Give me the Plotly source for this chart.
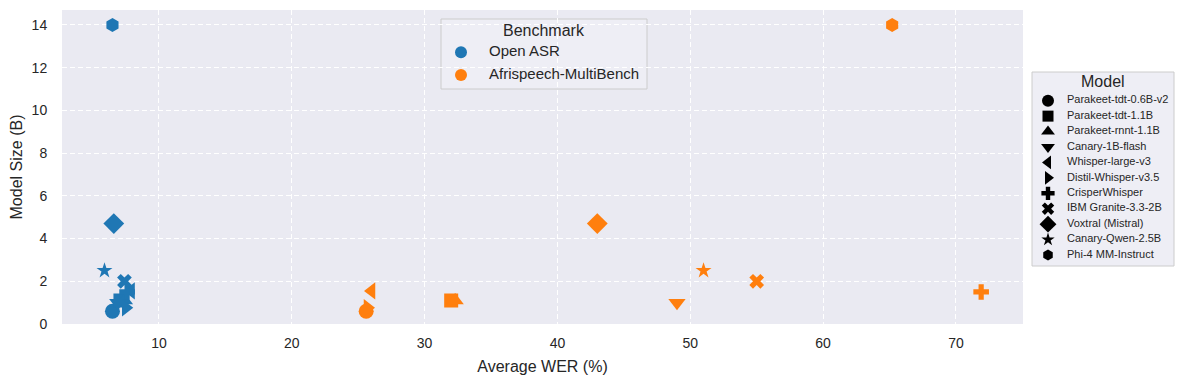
import plotly.graph_objects as go

MODELS = [
    "Parakeet-tdt-0.6B-v2", "Parakeet-tdt-1.1B", "Parakeet-rnnt-1.1B",
    "Canary-1B-flash", "Whisper-large-v3", "Distil-Whisper-v3.5",
    "CrisperWhisper", "IBM Granite-3.3-2B", "Voxtral (Mistral)",
    "Canary-Qwen-2.5B", "Phi-4 MM-Instruct",
]
MODEL_SIZE_B = [0.6, 1.1, 1.1, 1.0, 1.55, 0.76, 1.5, 2.0, 4.7, 2.5, 14.0]
WER_OPEN_ASR = [6.5, 7.1, 7.4, 6.9, 7.9, 7.5, 7.6, 7.4, 6.6, 5.9, 6.5]
WER_AFRISPEECH = [25.6, 32.0, 32.3, 49.0, 26.0, 25.7, 71.9, 55.0, 43.0, 51.0, 65.2]

BENCHMARKS = ["Open ASR", "Afrispeech-MultiBench"]
BENCH_COLORS = ["#1f77b4", "#ff7f0e"]
SYMBOLS = ["circle", "square", "triangle-up", "triangle-down", "triangle-left",
           "triangle-right", "cross", "x", "diamond", "star", "hexagon"]
# plotly symbols scale differently from matplotlib markers; tune per shape
SYMBOL_SIZE = {"circle": 15, "square": 14, "triangle-up": 15, "triangle-down": 15,
               "triangle-left": 15, "triangle-right": 15, "cross": 13, "x": 13,
               "diamond": 16, "star": 12, "hexagon": 14}

FONT = "Arial, Liberation Sans, sans-serif"
TEXT = "#262626"
AX_BG = "#EAEAF2"
LEG_BG = "#EEEEF5"
LEG_EDGE = "#CCCCCC"

# figure geometry; the page adds an 8px body margin, helpers take page pixels
W, H = 1167, 368
M_L, M_T, M_B = 54, 2, 52
PW, PH = W - M_L, H - M_T - M_B
OFF = 8


def px(x):
    return (x - OFF - M_L) / PW


def py(y):
    return (H - M_B - (y - OFF)) / PH


sizes = [SYMBOL_SIZE[s] for s in SYMBOLS]

fig = go.Figure()

# Data points, one trace per benchmark (opacity=1: array sizes default to 0.7)
for bench, wer, color in zip(BENCHMARKS, [WER_OPEN_ASR, WER_AFRISPEECH], BENCH_COLORS):
    fig.add_trace(go.Scatter(
        x=wer, y=MODEL_SIZE_B, mode="markers", showlegend=False,
        marker=dict(color=color, size=sizes, symbol=SYMBOLS, opacity=1,
                    line=dict(width=0)),
        hovertext=MODELS, name=bench))


def legend_box(labels, markers, xa, ya, font_size):
    """Matplotlib-style legend column drawn on a small hidden inset axis."""
    idx = list(range(len(labels)))
    fig.add_trace(go.Scatter(
        x=[0] * len(labels), y=idx, mode="markers", xaxis=xa, yaxis=ya,
        showlegend=False, cliponaxis=False, hoverinfo="skip",
        marker=dict(line=dict(width=0), opacity=1, **markers)))
    fig.add_trace(go.Scatter(
        x=[1] * len(labels), y=idx, mode="text", text=labels, xaxis=xa, yaxis=ya,
        textposition="middle right", showlegend=False, cliponaxis=False,
        hoverinfo="skip", textfont=dict(size=font_size, color=TEXT)))


legend_box(BENCHMARKS, dict(color=BENCH_COLORS, size=12, symbol="circle"),
           "x3", "y3", 15)
legend_box(MODELS, dict(color="black", symbol=SYMBOLS,
                        size=[round(s * 0.82) for s in sizes]),
           "x2", "y2", 11)

grid = dict(showgrid=True, gridcolor="white", griddash="5px,3px", gridwidth=1,
            zeroline=False, showline=False, automargin=False,
            ticks="outside", tickcolor="rgba(0,0,0,0)", tickfont=dict(size=14))
inset = dict(visible=False, fixedrange=True)

fig.update_layout(
    width=W, height=H,
    paper_bgcolor="white", plot_bgcolor="rgba(0,0,0,0)",
    font=dict(family=FONT, color=TEXT, size=13),
    margin=dict(l=M_L, r=0, t=M_T, b=M_B),
    showlegend=False,
    xaxis=dict(
        domain=[0, px(1023)], anchor="y",
        title=dict(text="Average WER (%)", font=dict(size=16), standoff=11),
        range=[2.7, 75.05], tickvals=[10, 20, 30, 40, 50, 60, 70],
        ticklen=6, **grid),
    yaxis=dict(
        anchor="x",
        title=dict(text="Model Size (B)", font=dict(size=16), standoff=10),
        range=[0, 14.7], tickvals=[0, 2, 4, 6, 8, 10, 12, 14],
        ticklen=11, **grid),
    # Model legend inset
    xaxis2=dict(domain=[px(1048), px(1067)], range=[0, 1], anchor="y2", **inset),
    yaxis2=dict(domain=[py(255), py(100.7)], range=[len(MODELS) - 1, 0],
                anchor="x2", **inset),
    # Benchmark legend inset
    xaxis3=dict(domain=[px(461), px(489)], range=[0, 1], anchor="y3", **inset),
    yaxis3=dict(domain=[py(75), py(52.3)], range=[len(BENCHMARKS) - 1, 0],
                anchor="x3", **inset),
    shapes=[
        dict(type="rect", xref="x domain", yref="y domain", x0=0, x1=1, y0=0, y1=1,
             fillcolor=AX_BG, line=dict(width=0), layer="below"),
        dict(type="rect", xref="paper", yref="paper",
             x0=px(1032), x1=px(1174), y0=py(266), y1=py(72),
             fillcolor=LEG_BG, line=dict(color=LEG_EDGE, width=1), layer="below"),
        dict(type="rect", xref="paper", yref="paper",
             x0=px(441), x1=px(647), y0=py(89), y1=py(19),
             fillcolor=LEG_BG, line=dict(color=LEG_EDGE, width=1), layer="below"),
    ],
    annotations=[
        dict(text="Model", xref="paper", yref="paper", x=px(1103), y=py(81.7),
             xanchor="center", yanchor="middle", showarrow=False,
             font=dict(size=16, color=TEXT)),
        dict(text="Benchmark", xref="paper", yref="paper", x=px(544), y=py(30.5),
             xanchor="center", yanchor="middle", showarrow=False,
             font=dict(size=16, color=TEXT)),
    ],
)

fig.write_html("out.html")
